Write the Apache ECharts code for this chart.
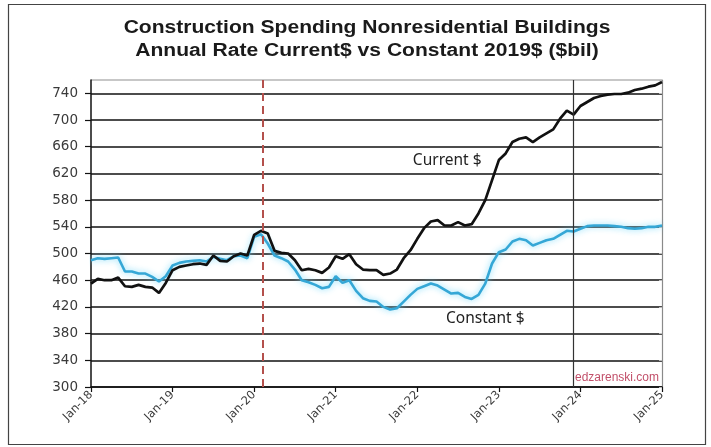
<!DOCTYPE html>
<html>
<head>
<meta charset="utf-8">
<script src="https://cdn.jsdelivr.net/npm/echarts@6/dist/echarts.min.js"></script>
<style>
  html, body { margin: 0; padding: 0; background: #fff; }
  #chart { width: 711px; height: 447px; }
</style>
</head>
<body>
<div id="chart"></div>
<script>
// Monthly values, Jan-18 through Jan-25 ($bil, seasonally adjusted annual rate)
const currentDollars = [
  455, 462, 460, 460, 464, 451, 450, 453, 450, 449, 441, 456,
  475, 480, 482, 484, 485, 483, 497, 489, 488, 496, 500, 497,
  528, 534, 530, 504, 501, 500, 490, 475, 477, 475, 471, 479,
  496, 492, 499, 484, 476, 475, 475, 468, 470, 476, 493, 505,
  522, 538, 548, 550, 542, 542, 547, 542, 544, 560, 580, 610,
  640, 650, 667, 672, 674, 667, 674, 680, 686, 702, 714, 708,
  721, 727, 733, 736, 738, 739, 739, 741, 745, 747, 750, 752,
  757
];
const constant2019Dollars = [
  490, 493, 492, 493, 494, 473, 473, 470, 470, 465, 458, 466,
  482, 486, 488, 489, 490, 488, 495, 492, 490, 496, 497, 493,
  525, 529, 515, 497, 493, 488, 476, 460, 457, 453, 448, 450,
  466, 456, 460, 444, 433, 429, 428, 420, 416, 418, 428, 438,
  447, 451, 455, 452, 446, 440, 441, 435, 432, 438, 455, 485,
  502, 506, 518, 522, 520, 512, 516, 520, 522, 528, 534, 533,
  537, 541, 542, 542, 542, 541, 540, 538, 537, 538, 540, 540,
  542
];
const yearLabels = ['Jan-18', 'Jan-19', 'Jan-20', 'Jan-21', 'Jan-22', 'Jan-23', 'Jan-24', 'Jan-25'];

// Reference lines, in months since Jan-18
const pandemicStart = 25.3;
const latestYearStart = 71;

// Label anchors in data space (month, $bil)
const currentLabelAt = [52.4, 640];
const constantLabelAt = [58, 402];

const titleLines = 'Construction Spending Nonresidential Buildings\nAnnual Rate Current$ vs Constant 2019$ ($bil)';

const toPairs = arr => arr.map((v, i) => [i, v]);

const chart = echarts.init(document.getElementById('chart'), null, { renderer: 'canvas' });

// Horizontal grid lines are black; the top edge of the plot is a light frame line
const gridColors = [];
for (let i = 0; i < 12; i++) gridColors.push('#111');
gridColors.push('#b4b4b4');

const noteLabel = text => ({
  show: true,
  formatter: text,
  fontFamily: 'Noto Sans, Open Sans, sans-serif',
  fontSize: 15.5,
  color: '#222'
});

chart.setOption({
  animation: false,
  backgroundColor: '#fff',
  grid: { left: 91, right: 49, top: 80, bottom: 60, containLabel: false },
  xAxis: {
    type: 'value',
    min: 0,
    max: 84,
    interval: 12,
    axisLine: { show: true, lineStyle: { color: '#111', width: 1.5 } },
    axisTick: { show: true, length: 5, lineStyle: { color: '#111', width: 1.2 } },
    splitLine: { show: false },
    axisLabel: {
      rotate: 45,
      margin: 6,
      fontFamily: 'DejaVu Sans, sans-serif',
      fontSize: 11.5,
      color: '#3a3a3a',
      formatter: v => yearLabels[Math.round(v / 12)] || ''
    }
  },
  yAxis: [{
    type: 'value',
    min: 300,
    max: 760,
    interval: 40,
    axisLine: { show: true, lineStyle: { color: '#111', width: 1.5 } },
    axisTick: { show: true, length: 6, lineStyle: { color: '#111', width: 1.2 } },
    splitLine: { show: true, lineStyle: { color: gridColors, width: 1.6 } },
    axisLabel: {
      showMaxLabel: false,
      margin: 13,
      fontFamily: 'DejaVu Sans, sans-serif',
      fontSize: 13.5,
      color: '#3a3a3a'
    }
  }, {
    type: 'value',
    position: 'right',
    min: 300,
    max: 760,
    interval: 40,
    axisLine: { show: true, lineStyle: { color: '#8a8a8a', width: 1.2 } },
    axisTick: { show: true, inside: true, length: 3, lineStyle: { color: '#bbb' } },
    axisLabel: { show: false },
    splitLine: { show: false }
  }],
  series: [{
    name: 'Constant $',
    type: 'line',
    data: toPairs(constant2019Dollars),
    symbol: 'none',
    lineStyle: {
      color: '#35a7d6',
      width: 2.6,
      shadowColor: 'rgba(110, 215, 250, 0.9)',
      shadowBlur: 6
    },
    z: 3,
    markPoint: {
      symbol: 'circle',
      symbolSize: 0,
      label: noteLabel('Constant $'),
      data: [{ coord: constantLabelAt }]
    }
  }, {
    name: 'Current $',
    type: 'line',
    data: toPairs(currentDollars),
    symbol: 'none',
    lineStyle: { color: '#111', width: 2.7 },
    z: 4,
    markPoint: {
      symbol: 'circle',
      symbolSize: 0,
      label: noteLabel('Current $'),
      data: [{ coord: currentLabelAt }]
    },
    markLine: {
      symbol: 'none',
      silent: true,
      label: { show: false },
      data: [
        { xAxis: pandemicStart, lineStyle: { color: '#b4504c', width: 2, type: [8, 5] } },
        { xAxis: latestYearStart, lineStyle: { color: '#333', width: 1.2, type: 'solid' } }
      ]
    }
  }],
  graphic: [{
    type: 'rect',
    shape: { x: 8.5, y: 4.5, width: 697, height: 440 },
    style: { fill: 'none', stroke: '#444', lineWidth: 1.2 },
    silent: true
  }, {
    // two-line title, drawn slightly wide
    type: 'group',
    x: 367,
    y: 17,
    scaleX: 1.17,
    silent: true,
    children: [{
      type: 'text',
      style: {
        text: titleLines,
        x: 0,
        y: 0,
        align: 'center',
        textAlign: 'center',
        verticalAlign: 'top',
        textVerticalAlign: 'top',
        font: 'bold 18px "Liberation Sans", Arial, sans-serif',
        lineHeight: 23,
        fill: '#1a1a1a'
      }
    }]
  }, {
    type: 'text',
    right: 52,
    top: 372,
    style: {
      text: 'edzarenski.com',
      font: '12px "Liberation Sans", Arial, sans-serif',
      fill: '#c2506a'
    },
    silent: true
  }]
});
</script>
</body>
</html>
